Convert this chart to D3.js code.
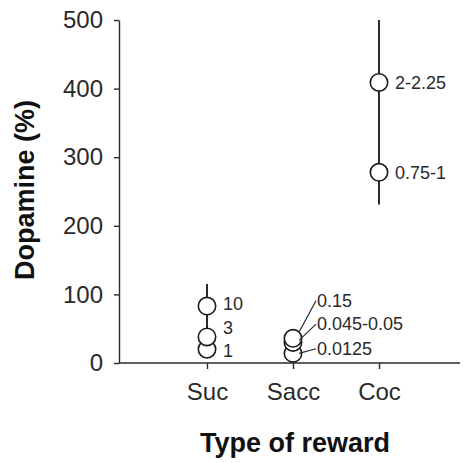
<!DOCTYPE html>
<html><head><meta charset="utf-8">
<script src="https://cdn.jsdelivr.net/npm/d3@7"></script>
<style>body{margin:0;background:#fff}svg{display:block}text{font-family:Arial,"Liberation Sans",sans-serif}</style>
</head><body>
<svg id="c" width="463" height="463"></svg>
<script>
const categories = ["Suc", "Sacc", "Coc"];
const yTicks = [0, 100, 200, 300, 400, 500];
// points: category, value, label, error bar low/high
const pointCats   = ["Suc", "Suc", "Suc", "Sacc", "Sacc", "Sacc", "Coc", "Coc"];
const pointVals   = [20, 38, 83, 14, 30, 36, 278, 409];
const pointLabels = ["1", "3", "10", "0.0125", "0.045-0.05", "0.15", "0.75-1", "2-2.25"];
const errLow      = [20, 38, 50, 14, 30, 36, 231, 278];
const errHigh     = [20, 83, 115, 14, 30, 36, 278, 500];

const svg = d3.select("#c");
const stroke = "#2a2a2a";
const FONT = "Arial, 'Liberation Sans', sans-serif";
const y = d3.scaleLinear().domain([0, 500]).range([363, 20]);
const x = d3.scalePoint().domain(categories).range([207, 379]);
const axisX0 = 119, axisX1 = 460;

// y axis
const gy = svg.append("g").attr("transform", `translate(${axisX0},0)`)
  .call(d3.axisLeft(y).tickValues(yTicks).tickSize(5).tickSizeOuter(0).tickPadding(11));
gy.select(".domain").attr("stroke", stroke).attr("stroke-width", 1.4);
gy.selectAll(".tick line").attr("stroke", stroke).attr("stroke-width", 1.4);
gy.selectAll(".tick text").attr("font-size", 24).attr("fill", "#2a2a2a").attr("font-family", FONT);

// x axis
const gx = svg.append("g").attr("transform", `translate(0,${y(0)})`)
  .call(d3.axisBottom(x).tickSize(6).tickSizeOuter(0).tickPadding(14));
gx.select(".domain").remove();
gx.append("line").attr("x1", axisX0).attr("x2", axisX1).attr("stroke", stroke).attr("stroke-width", 1.4);
gx.selectAll(".tick line").attr("stroke", stroke).attr("stroke-width", 1.4);
gx.selectAll(".tick text").attr("font-size", 24).attr("fill", "#2a2a2a").attr("font-family", FONT);

// axis titles
svg.append("text").attr("transform", `translate(34,190) rotate(-90)`)
  .attr("text-anchor", "middle").attr("font-size", 27).attr("font-weight", "bold").attr("fill", "#111")
  .text("Dopamine (%)");
svg.append("text").attr("x", 295).attr("y", 452)
  .attr("text-anchor", "middle").attr("font-size", 27).attr("font-weight", "bold").attr("fill", "#111")
  .text("Type of reward");

const pts = pointCats.map((c, i) => ({c, v: pointVals[i], l: pointLabels[i], lo: errLow[i], hi: errHigh[i]}));

// error bars
svg.append("g").selectAll("line").data(pts.filter(d => d.hi > d.lo)).join("line")
  .attr("x1", d => x(d.c)).attr("x2", d => x(d.c))
  .attr("y1", d => y(d.lo)).attr("y2", d => y(d.hi))
  .attr("stroke", stroke).attr("stroke-width", 2);

// circles
svg.append("g").selectAll("circle").data(pts).join("circle")
  .attr("cx", d => x(d.c)).attr("cy", d => y(d.v)).attr("r", 8.7)
  .attr("fill", "#fff").attr("stroke", "#1a1a1a").attr("stroke-width", 1.6);

// labels
const lab = svg.append("g").attr("font-size", 18).attr("fill", "#2a2a2a");
const baseOffset = {"1": 8, "3": -3, "10": 4, "0.75-1": 7, "2-2.25": 7};
pts.forEach(d => {
  if (d.c === "Sacc") return;
  lab.append("text").attr("x", x(d.c) + 16).attr("y", y(d.v) + baseOffset[d.l]).text(d.l);
});
// Sacc labels with leader lines (label baselines in data units)
const saccLabelVals = {"0.15": 82, "0.045-0.05": 48, "0.0125": 12};
const saccStartDy = {"0.15": -6, "0.045-0.05": -2, "0.0125": 0};
pts.filter(d => d.c === "Sacc").forEach(d => {
  const lv = saccLabelVals[d.l];
  const lx = x(d.c) + 24;
  const sx = x(d.c) + 6, sy = y(d.v) + saccStartDy[d.l];
  lab.append("line").attr("x1", sx).attr("y1", sy).attr("x2", lx - 1).attr("y2", y(lv) - 6)
    .attr("stroke", stroke).attr("stroke-width", 1.2);
  lab.append("text").attr("x", lx).attr("y", y(lv)).text(d.l);
});
</script>
</body></html>
